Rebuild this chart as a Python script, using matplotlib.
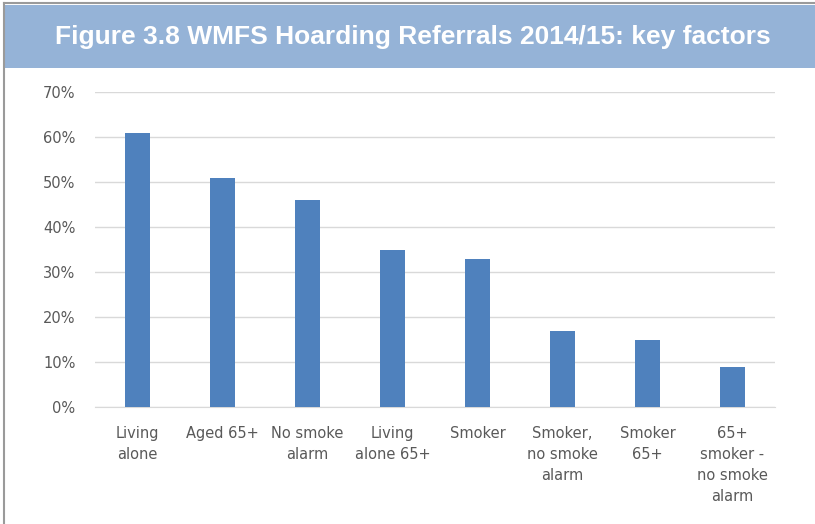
import matplotlib.pyplot as plt
from matplotlib.patches import Rectangle
from matplotlib.lines import Line2D
from matplotlib import font_manager

categories = ["Living\nalone", "Aged 65+", "No smoke\nalarm", "Living\nalone 65+",
              "Smoker", "Smoker,\nno smoke\nalarm", "Smoker\n65+",
              "65+\nsmoker -\nno smoke\nalarm"]
values = [61, 51, 46, 35, 33, 17, 15, 9]
yticks = [0, 10, 20, 30, 40, 50, 60, 70]

names = {f.name for f in font_manager.fontManager.ttflist}
title_font = "Liberation Sans Narrow" if "Liberation Sans Narrow" in names else "Liberation Sans"

W, H = 815, 524
fig = plt.figure(figsize=(W / 100, H / 100), dpi=100)

# banner and frame
fig.patches.append(Rectangle((5 / W, 1 - 68 / H), 1 - 5 / W, 63 / H,
                             transform=fig.transFigure, facecolor="#95b3d7",
                             edgecolor="none", zorder=0))
fig.lines.append(Line2D([4 / W, 4 / W], [0, 1 - 3 / H], transform=fig.transFigure,
                        color="#9a9a9a", lw=1.5))
fig.lines.append(Line2D([4 / W, 1], [1 - 3 / H, 1 - 3 / H], transform=fig.transFigure,
                        color="#9a9a9a", lw=1.5))
fig.text(413 / W, 1 - 37 / H, "Figure 3.8 WMFS Hoarding Referrals 2014/15: key factors",
         ha="center", va="center", color="white", fontsize=19, fontweight="bold",
         family=title_font)

ax = fig.add_axes([95 / W, 1 - 407 / H, 680 / W, 315 / H])
x = range(len(categories))
ax.bar(x, values, width=0.3, color="#4f81bd", zorder=3)
ax.set_xlim(-0.5, len(categories) - 0.5)
ax.set_ylim(0, 70)
ax.set_yticks(yticks)
ax.set_yticklabels([f"{v}%" for v in yticks])
ax.set_xticks(list(x))
ax.set_xticklabels(categories, linespacing=1.5, va="top")
ax.yaxis.grid(True, color="#d9d9d9", lw=1)
ax.set_axisbelow(True)
for s in ["top", "right", "left"]:
    ax.spines[s].set_visible(False)
ax.spines["bottom"].set_color("#d9d9d9")
ax.tick_params(axis="both", length=0, colors="#595959", labelsize=10.5)
ax.tick_params(axis="x", pad=14)
ax.tick_params(axis="y", pad=14)

fig.savefig("out.png", dpi=100)
